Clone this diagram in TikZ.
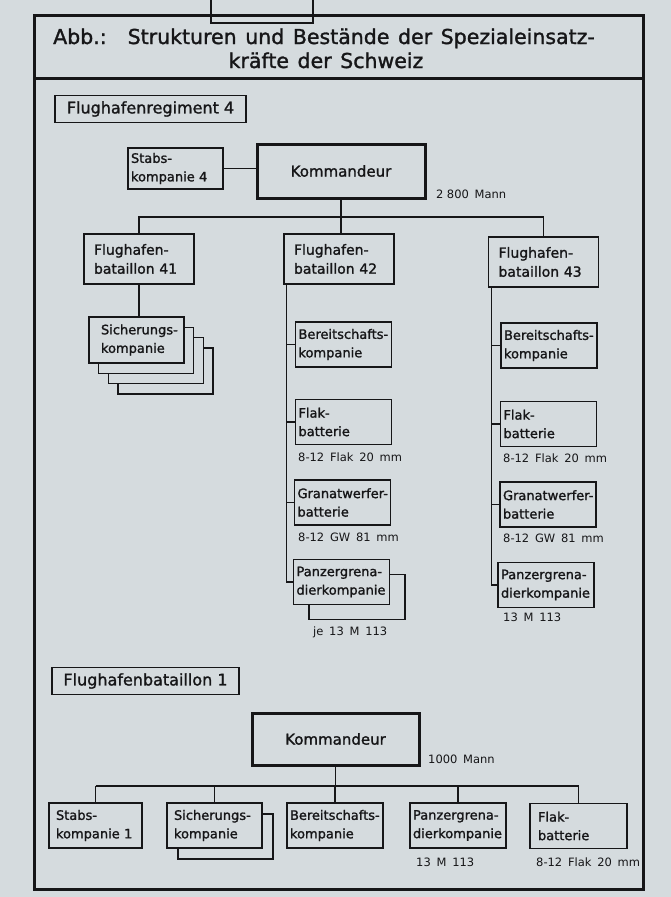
\documentclass[tikz,border=0pt]{standalone}
\usepackage{fontspec}
\setmainfont{DejaVu Sans}[BoldFont={DejaVu Sans}, BoldFeatures={FakeBold=1.4}]
\definecolor{paper}{RGB}{213,219,222}
\definecolor{ink}{RGB}{22,22,24}
\newcommand\titlefont{\fontsize{20.5}{24}\selectfont\bfseries\spaceskip=0.42em plus 0.1em}
\newcommand\headfont{\fontsize{16}{19}\selectfont\bfseries}
\newcommand\unitfont{\fontsize{13}{18.5}\selectfont\bfseries}
\newcommand\batfont{\fontsize{14}{19}\selectfont\bfseries}
\newcommand\kdrfont{\fontsize{15}{18}\selectfont\bfseries}
\newcommand\notefont{\fontsize{11.5}{14}\selectfont\spaceskip=0.5em plus 0.1em}
\hyphenpenalty=10000
\exhyphenpenalty=10000
\begin{document}
\begin{tikzpicture}[x=1pt, y=-1pt, text=ink, font=\unitfont]
                \fill[paper] (0,0) rectangle (671,897);
                \useasboundingbox (0,0) rectangle (671,897);

                \tikzset{
                    outline/.style = {draw=ink, line width=3pt},
                    link/.style = {draw=ink, line width=1.3pt},
                    unit/.style = {draw=ink, line width=1.5pt, fill=paper, font=\unitfont, align=left,
                        inner xsep=3pt, inner ysep=2pt, text width=90pt, minimum height=45pt},
                    bat/.style = {unit, font=\batfont, inner xsep=10pt, text width=90pt, minimum height=50pt},
                    kdr/.style = {draw=ink, line width=3pt, fill=paper, font=\kdrfont,
                        minimum width=168pt, minimum height=54pt},
                    head/.style = {draw=ink, line width=1.6pt, font=\headfont, minimum height=27pt},
                    note/.style = {font=\notefont, inner sep=0pt, anchor=base west},
                }

                \draw[outline] (34,15) rectangle (643,889);
                \draw[outline] (34,78) -- (643,78);
                \draw[link] (211,0) -- (211,23) -- (313,23) -- (313,0);

                \node[font=\titlefont, anchor=base west, inner sep=0pt] (title1) at (53,44)
                {Abb.:\hspace{0.5em} Strukturen und Bestände der Spezialeinsatz-};
                \node[font=\titlefont, anchor=base, inner sep=0pt] (title2) at (326,68) {kräfte der Schweiz};

                \node[head, minimum width=191pt] (hdrA) at (150.5,109) {Flughafenregiment 4};
                \node[unit, text width=89pt, minimum height=41pt] (stabsA) at (175.5,168.5) {Stabs-\\kompanie 4};
                \node[kdr] (kdrA) at (341,171) {Kommandeur};
                \node[note] (mannA) at (436,198) {2\hspace{0.3em}800 Mann};

                \node[bat] (bat41) at (139,259) {Flughafen-\\bataillon 41};
                \node[bat] (bat42) at (339,259) {Flughafen-\\bataillon 42};
                \node[bat] (bat43) at (543.5,262) {Flughafen-\\bataillon 43};

                \coordinate (busA) at (0,217);
                \draw[link] (stabsA.east) -- (stabsA.east -| kdrA.west);
                \draw[link] (kdrA.south) -- (kdrA.south |- bat42.north);
                \draw[link] (bat41.north) -- (bat41.north |- busA) -- (bat43.north |- busA) -- (bat43.north);

                \foreach \d in {3,2,1}
                    \node[unit, text width=89pt, minimum height=46pt] (sich41s\d) at ({136.5+9.7*\d},{340+10.3*\d}) {};
                \node[unit, minimum height=46pt, inner xsep=12pt, text width=71pt] (sich41) at (136.5,340) {Sicherungs-\\kompanie};
                \draw[link] (bat41.south) -- (bat41.south |- sich41.north);

                \node[unit] (ber42) at (343.5,344.5) {Bereitschafts-\\kompanie};
                \node[unit] (flak42) at (343.5,422) {Flak-\\batterie};
                \node[note] (flak42n) at (298,461) {8-12 Flak 20 mm};
                \node[unit] (gw42) at (342.5,502.5) {Granatwerfer-\\batterie};
                \node[note] (gw42n) at (298,541) {8-12 GW 81 mm};
                \node[unit] (pz42s) at (357,597) {};
                \node[unit] (pz42) at (341.5,582) {Panzergrena-\\dierkompanie};
                \node[note] (pz42n) at (313,635) {je 13 M 113};
                \coordinate (sp42) at ([xshift=3pt]bat42.south west);
                \draw[link] (sp42) |- (pz42.west);
                \foreach \n in {ber42, flak42, gw42}
                    \draw[link] (\n.west -| sp42) -- (\n.west);

                \node[unit] (ber43) at (549,345.5) {Bereitschafts-\\kompanie};
                \node[unit] (flak43) at (548.5,424) {Flak-\\batterie};
                \node[note] (flak43n) at (503,462) {8-12 Flak 20 mm};
                \node[unit] (gw43) at (548,504.5) {Granatwerfer-\\batterie};
                \node[note] (gw43n) at (503,542) {8-12 GW 81 mm};
                \node[unit] (pz43) at (546,585) {Panzergrena-\\dierkompanie};
                \node[note] (pz43n) at (503,621) {13 M 113};
                \coordinate (sp43) at ([xshift=4pt]bat43.south west);
                \draw[link] (sp43) |- (pz43.west);
                \foreach \n in {ber43, flak43, gw43}
                    \draw[link] (\n.west -| sp43) -- (\n.west);

                \node[head, minimum width=187pt] (hdrB) at (145.5,681) {Flughafenbataillon 1};
                \node[kdr, minimum width=167pt, minimum height=52pt] (kdrB) at (335.5,739) {Kommandeur};
                \node[note] (mannB) at (428,763) {1000 Mann};

                \node[unit, inner xsep=7pt, text width=79pt] (stabsB) at (95.5,825.5) {Stabs-\\kompanie 1};
                \node[unit, text width=89pt] (sichBs) at (225.5,836.5) {};
                \node[unit, inner xsep=7pt, text width=81pt] (sichB) at (214.5,825.5) {Sicherungs-\\kompanie};
                \node[unit] (berB) at (335,825.5) {Bereitschafts-\\kompanie};
                \node[unit] (pzB) at (458,825.5) {Panzergrena-\\dierkompanie};
                \node[unit, inner xsep=8pt, text width=81pt] (flakB) at (578.5,826) {Flak-\\batterie};
                \node[note] (pzBn) at (416,866) {13 M 113};
                \node[note] (flakBn) at (536,866) {8-12 Flak 20 mm};

                \coordinate (busB) at (0,786);
                \draw[link] (kdrB.south) -- (kdrB.south |- busB);
                \draw[link] (stabsB.north |- busB) -- (flakB.north |- busB);
                \foreach \n in {stabsB, sichB, berB, pzB, flakB}
                    \draw[link] (\n.north |- busB) -- (\n.north);

            \end{tikzpicture}
\end{document}
